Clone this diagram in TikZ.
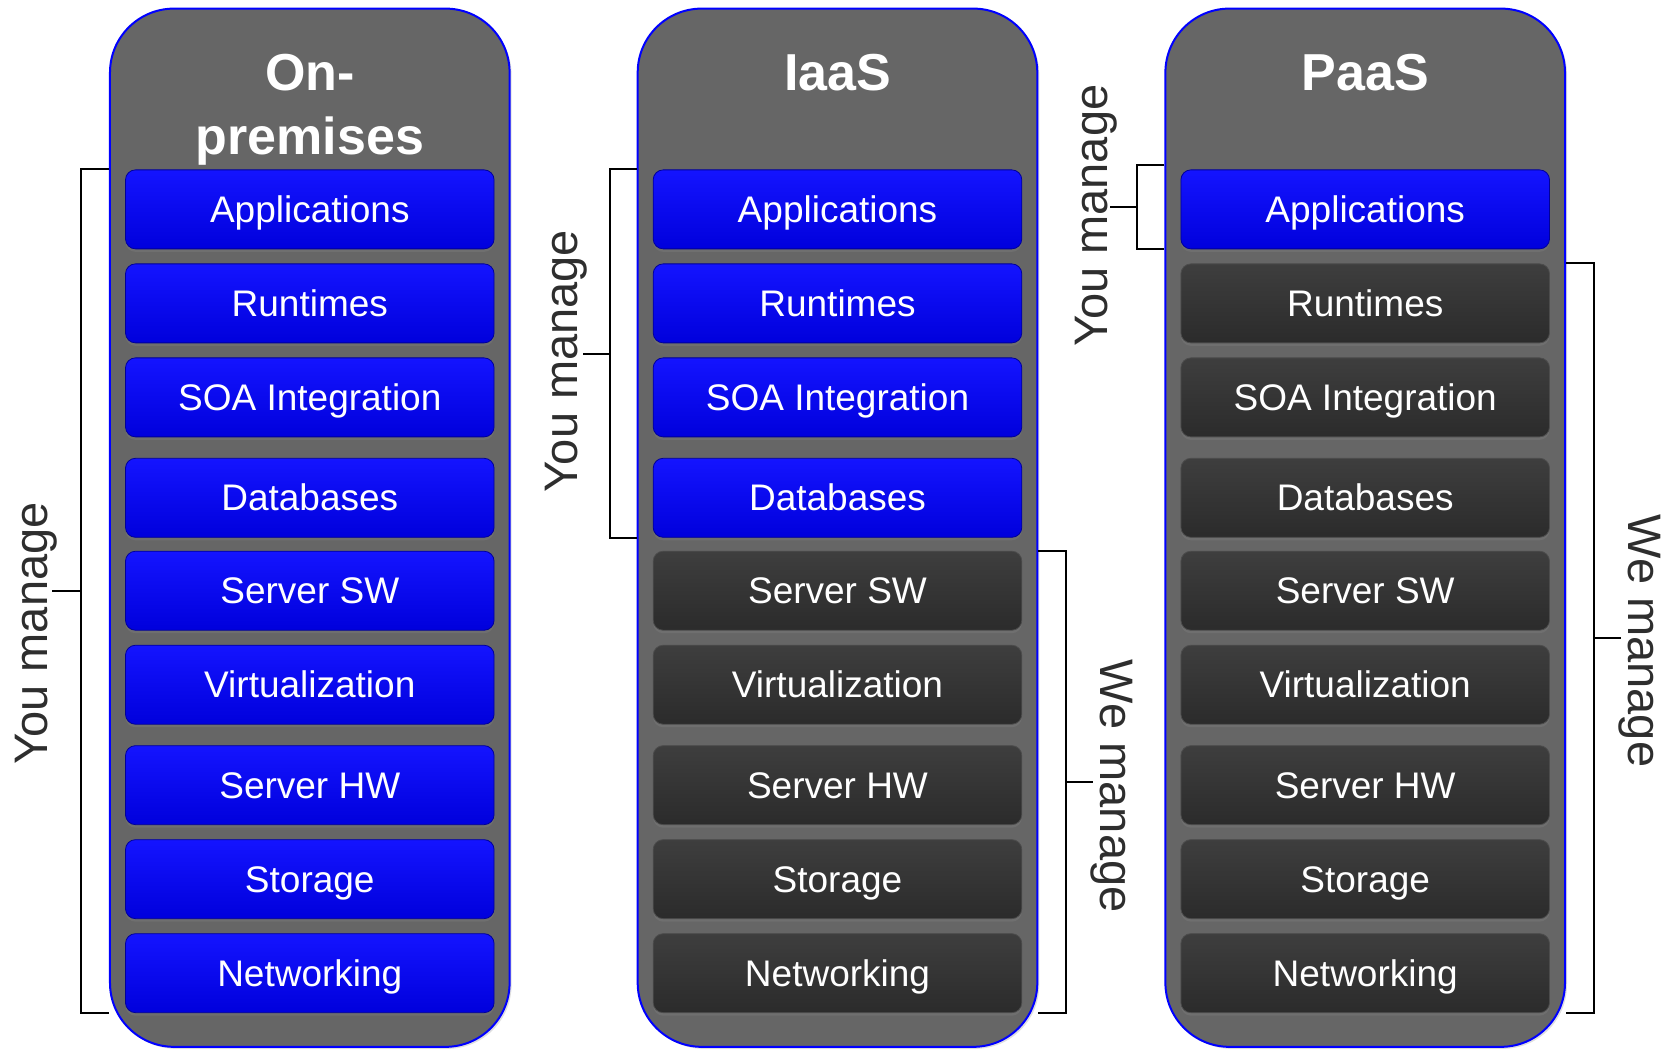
\documentclass[tikz,border=0pt]{standalone}
\usepackage{fontspec}
\setmainfont{Liberation Sans}
\usepackage{xcolor}
\usetikzlibrary{shadows, calc}

\definecolor{colgray}{HTML}{666666}
\definecolor{bluetop}{HTML}{1414FF}
\definecolor{bluemid}{HTML}{0000FF}
\definecolor{bluebot}{HTML}{0000DC}
\definecolor{darktop}{HTML}{3E3E3E}
\definecolor{darkmid}{HTML}{303030}
\definecolor{darkbot}{HTML}{2B2B2B}
\definecolor{sidetext}{HTML}{2E2E2E}

\begin{document}
\begin{tikzpicture}[x=0.5341pt, y=-0.5341pt,
    column/.style={draw=blue, line width=1pt, fill=colgray, rounded corners=32pt,
        minimum width=199.8pt, minimum height=519.1pt, inner sep=0pt,
        drop shadow={shadow xshift=1pt, shadow yshift=-1pt, opacity=0.25}},
    layer/.style={rounded corners=5pt, minimum width=184.3pt, minimum height=39.5pt,
        inner sep=0pt, text=white, font=\fontsize{18.5}{20}\selectfont,
        text height=13.2pt, text depth=0pt,
        drop shadow={shadow xshift=0pt, shadow yshift=-1.5pt, opacity=0.35}},
    you/.style={layer, draw=blue!60!black, line width=0.4pt,
        top color=bluetop, middle color=bluemid, bottom color=bluebot},
    we/.style={layer, draw=black!70, line width=0.4pt,
        top color=darktop, middle color=darkmid, bottom color=darkbot},
    title/.style={anchor=base, text=white, font=\fontsize{26}{30}\selectfont\bfseries},
    bracket/.style={draw=black, line width=1pt},
    side/.style={text=sidetext, font=\fontsize{23.5}{26}\selectfont,
        text height=16.8pt, text depth=0pt, inner sep=0pt}
]
    \useasboundingbox (0,0) rectangle (1568,983);

    % On-premises
    \node[column] (on) at (290,494) {};
    \node[title] (ontitle) at (290,85) {On-};
    \node[title] (ontitleb) at (290,145) {premises};
    \node[you] (onapp) at (290,196) {Applications};
    \node[you] (onrun) at (290,284) {Runtimes};
    \node[you] (onsoa) at (290,372) {SOA Integration};
    \node[you] (ondb) at (290,466) {Databases};
    \node[you] (onsw) at (290,553) {Server SW};
    \node[you] (onvirt) at (290,641) {Virtualization};
    \node[you] (onhw) at (290,735) {Server HW};
    \node[you] (onstor) at (290,823) {Storage};
    \node[you] (onnet) at (290,911) {Networking};

    % IaaS
    \node[column] (iaas) at (784,494) {};
    \node[title] (iaastitle) at (784,85) {IaaS};
    \node[you] (iaasapp) at (784,196) {Applications};
    \node[you] (iaasrun) at (784,284) {Runtimes};
    \node[you] (iaassoa) at (784,372) {SOA Integration};
    \node[you] (iaasdb) at (784,466) {Databases};
    \node[we] (iaassw) at (784,553) {Server SW};
    \node[we] (iaasvirt) at (784,641) {Virtualization};
    \node[we] (iaashw) at (784,735) {Server HW};
    \node[we] (iaasstor) at (784,823) {Storage};
    \node[we] (iaasnet) at (784,911) {Networking};

    % PaaS
    \node[column] (paas) at (1278,494) {};
    \node[title] (paastitle) at (1278,85) {PaaS};
    \node[you] (paasapp) at (1278,196) {Applications};
    \node[we] (paasrun) at (1278,284) {Runtimes};
    \node[we] (paassoa) at (1278,372) {SOA Integration};
    \node[we] (paasdb) at (1278,466) {Databases};
    \node[we] (paassw) at (1278,553) {Server SW};
    \node[we] (paasvirt) at (1278,641) {Virtualization};
    \node[we] (paashw) at (1278,735) {Server HW};
    \node[we] (paasstor) at (1278,823) {Storage};
    \node[we] (paasnet) at (1278,911) {Networking};

    % brackets
    \draw[bracket] (on.west |- onapp.north) -- ++(-26,0) coordinate (ona)
        -- (ona |- onnet.south) coordinate (onb) -- (on.west |- onnet.south);
    \draw[bracket] ($(ona)!0.5!(onb)$) -- ++(-27,0);
    \node[side, rotate=90] (onyou) at (29,593) {You manage};

    \draw[bracket] (iaas.west |- iaasapp.north) -- ++(-25,0) coordinate (iaasa)
        -- (iaasa |- iaasdb.south) coordinate (iaasb) -- (iaas.west |- iaasdb.south);
    \draw[bracket] ($(iaasa)!0.5!(iaasb)$) -- ++(-25,0);
    \node[side, rotate=90] (iaasyou) at (525,338) {You manage};

    \draw[bracket] (iaas.east |- iaassw.north) -- ++(26,0) coordinate (iaasc)
        -- (iaasc |- iaasnet.south) coordinate (iaasd) -- (iaas.east |- iaasnet.south);
    \draw[bracket] ($(iaasc)!0.5!(iaasd)$) -- ++(25,0);
    \node[side, rotate=-90] (iaaswe) at (1046,736) {We manage};

    \draw[bracket] ([yshift=2pt]paas.west |- paasapp.north) -- ++(-26,0) coordinate (paasa)
        -- (paasa |- paasapp.south) coordinate (paasb) -- (paas.west |- paasapp.south);
    \draw[bracket] ($(paasa)!0.5!(paasb)$) -- ++(-25,0);
    \node[side, rotate=90] (paasyou) at (1021,202) {You manage};

    \draw[bracket] (paas.east |- paasrun.north) -- ++(26,0) coordinate (paasc)
        -- (paasc |- paasnet.south) coordinate (paasd) -- (paas.east |- paasnet.south);
    \draw[bracket] ($(paasc)!0.5!(paasd)$) -- ++(25,0);
    \node[side, rotate=-90] (paaswe) at (1540,600) {We manage};
\end{tikzpicture}
\end{document}
